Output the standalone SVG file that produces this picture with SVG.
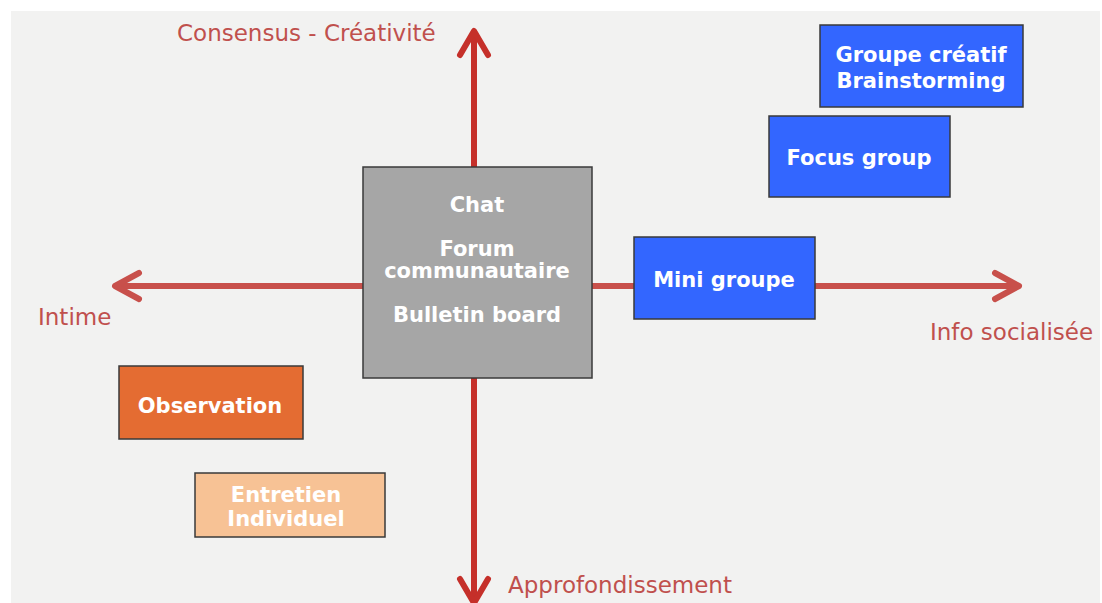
<svg xmlns="http://www.w3.org/2000/svg" width="1102" height="603" viewBox="0 0 1102 603">
  <style>
    .axis-label { font-family: "DejaVu Sans", Verdana, sans-serif; font-size: 23px; fill: #c0504d; }
    .node-text { font-family: "DejaVu Sans", Verdana, sans-serif; font-size: 21px; font-weight: bold; fill: #ffffff; text-anchor: middle; }
    .box { stroke: #3a3a3a; stroke-width: 1.5; }
    .axis-v { stroke: #c5302a; stroke-width: 6; fill: none; }
    .axis-h { stroke: #c8504b; stroke-width: 6; fill: none; }
  </style>
  <defs>
    <marker id="chev-v" viewBox="-30 -18 34 36" refX="0" refY="0" markerWidth="34" markerHeight="36" markerUnits="userSpaceOnUse" orient="auto-start-reverse">
      <path d="M-24,-14 L0,0 L-24,14" fill="none" stroke="#c5302a" stroke-width="6" stroke-linecap="round" stroke-linejoin="round"/>
    </marker>
    <marker id="chev-h" viewBox="-30 -18 34 36" refX="0" refY="0" markerWidth="34" markerHeight="36" markerUnits="userSpaceOnUse" orient="auto-start-reverse">
      <path d="M-24,-13 L0,0 L-24,13" fill="none" stroke="#c8504b" stroke-width="6" stroke-linecap="round" stroke-linejoin="round"/>
    </marker>
  </defs>

  <rect x="0" y="0" width="1102" height="603" fill="#ffffff"/>
  <rect x="11" y="11" width="1089" height="592" fill="#f2f2f1"/>

  <g id="connectors">
    <line class="axis-v" x1="474" y1="31" x2="474" y2="603" marker-start="url(#chev-v)" marker-end="url(#chev-v)"/>
    <line class="axis-h" x1="115" y1="286" x2="1019" y2="286" marker-start="url(#chev-h)" marker-end="url(#chev-h)"/>
  </g>

  <g id="labels">
    <text class="axis-label" x="177" y="41">Consensus - Créativité</text>
    <text class="axis-label" x="38" y="325">Intime</text>
    <text class="axis-label" x="930" y="340">Info socialisée</text>
    <text class="axis-label" x="508" y="593">Approfondissement</text>
  </g>

  <g id="node-center">
    <rect class="box" x="363" y="167" width="229" height="211" fill="#a6a6a6"/>
    <text class="node-text" x="477" y="212">Chat</text>
    <text class="node-text" x="477" y="256">Forum</text>
    <text class="node-text" x="477" y="278">communautaire</text>
    <text class="node-text" x="477" y="322">Bulletin board</text>
  </g>

  <g id="node-mini-groupe">
    <rect class="box" x="634" y="237" width="181" height="82" fill="#3366ff"/>
    <text class="node-text" x="724" y="287">Mini groupe</text>
  </g>

  <g id="node-groupe-creatif">
    <rect class="box" x="820" y="25" width="203" height="82" fill="#3366ff"/>
    <text class="node-text" x="921" y="62">Groupe créatif</text>
    <text class="node-text" x="921" y="88">Brainstorming</text>
  </g>

  <g id="node-focus-group">
    <rect class="box" x="769" y="116" width="181" height="81" fill="#3366ff"/>
    <text class="node-text" x="859" y="165">Focus group</text>
  </g>

  <g id="node-observation">
    <rect class="box" x="119" y="366" width="184" height="73" fill="#e46c32"/>
    <text class="node-text" x="210" y="413">Observation</text>
  </g>

  <g id="node-entretien">
    <rect class="box" x="195" y="473" width="190" height="64" fill="#f7c295"/>
    <text class="node-text" x="286" y="502">Entretien</text>
    <text class="node-text" x="286" y="526">Individuel</text>
  </g>
</svg>
